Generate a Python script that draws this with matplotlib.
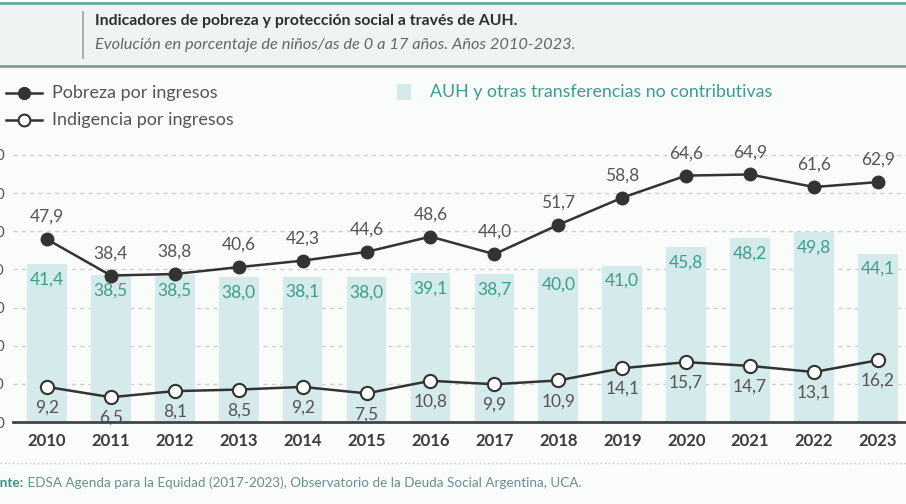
import matplotlib.pyplot as plt
from matplotlib.lines import Line2D
from matplotlib.patches import Rectangle

# Data
YEARS = ['2010', '2011', '2012', '2013', '2014', '2015', '2016',
         '2017', '2018', '2019', '2020', '2021', '2022', '2023']
POBREZA = [47.9, 38.4, 38.8, 40.6, 42.3, 44.6, 48.6, 44.0, 51.7, 58.8, 64.6, 64.9, 61.6, 62.9]
INDIGENCIA = [9.2, 6.5, 8.1, 8.5, 9.2, 7.5, 10.8, 9.9, 10.9, 14.1, 15.7, 14.7, 13.1, 16.2]
AUH = [41.4, 38.5, 38.5, 38.0, 38.1, 38.0, 39.1, 38.7, 40.0, 41.0, 45.8, 48.2, 49.8, 44.1]
Y_TICKS = [0, 10, 20, 30, 40, 50, 60, 70]

TITLE = 'Indicadores de pobreza y protección social a través de AUH.'
SUBTITLE = 'Evolución en porcentaje de niños/as de 0 a 17 años. Años 2010-2023.'
SOURCE_BOLD = 'Fuente:'
SOURCE = ' EDSA Agenda para la Equidad (2017-2023), Observatorio de la Deuda Social Argentina, UCA.'

# Colours
BG = '#fafbfb'
BAR = '#d5eaea'
TEAL = '#3a9e8e'
DARK = '#333333'
GREY_TXT = '#555555'

plt.rcParams['font.family'] = ['Lato', 'DejaVu Sans']

W, H = 906, 504
fig = plt.figure(figsize=(W / 100, H / 100), dpi=100, facecolor=BG)


def fx(px):
    return px / W


def fy(py):
    return 1 - py / H


# Header panel
fig.add_artist(Rectangle((0, fy(65)), 1, fy(4) - fy(65), transform=fig.transFigure,
                         facecolor='#eff3f3', edgecolor='none'))
for yy in (3, 66):
    fig.add_artist(Line2D([0, 1], [fy(yy), fy(yy)], transform=fig.transFigure,
                          color='#6fa69c', lw=2))
fig.add_artist(Line2D([fx(83), fx(83)], [fy(12), fy(58)], transform=fig.transFigure,
                      color='#a0a0a0', lw=1.2))
fig.text(fx(95), fy(21), TITLE, fontsize=11.4, fontweight='bold', color='#2e2e2e',
         va='center', ha='left')
fig.text(fx(95), fy(45), SUBTITLE, fontsize=11.8, style='italic', color='#666666',
         va='center', ha='left')

# Legend
fig.add_artist(Line2D([fx(6), fx(42)], [fy(93), fy(93)], transform=fig.transFigure,
                      color=DARK, lw=1.8))
fig.add_artist(Line2D([fx(24)], [fy(93)], transform=fig.transFigure, color=DARK,
                      marker='o', markersize=8.5, markerfacecolor=DARK, lw=0))
fig.add_artist(Line2D([fx(6), fx(42)], [fy(120), fy(120)], transform=fig.transFigure,
                      color=DARK, lw=1.8))
fig.add_artist(Line2D([fx(24)], [fy(120)], transform=fig.transFigure, color=DARK,
                      marker='o', markersize=8.5, markerfacecolor='white',
                      markeredgewidth=1.5, lw=0))
fig.text(fx(52), fy(93), 'Pobreza por ingresos', fontsize=13, color=GREY_TXT, va='center')
fig.text(fx(52), fy(120), 'Indigencia por ingresos', fontsize=13, color=GREY_TXT, va='center')
fig.add_artist(Rectangle((fx(397), fy(100)), fx(14), fy(84) - fy(100),
                         transform=fig.transFigure, facecolor=BAR, edgecolor='none'))
fig.text(fx(430), fy(92), 'AUH y otras transferencias no contributivas', fontsize=12.8,
         color=TEAL, va='center')

# Main axes
ax = fig.add_axes([fx(13), fy(422), 1 - fx(13), fy(155) - fy(422)])
ax.set_facecolor('none')
x = list(range(len(YEARS)))

ax.bar(x, AUH, width=0.62, color=BAR, zorder=1)
ax.plot(x, POBREZA, color=DARK, lw=1.8, marker='o', markersize=9,
        markerfacecolor=DARK, zorder=3)
ax.plot(x, INDIGENCIA, color=DARK, lw=1.8, marker='o', markersize=9.5,
        markerfacecolor='white', markeredgewidth=1.5, zorder=3)

for xi, v in zip(x, AUH):
    ax.annotate(f'{v:.1f}'.replace('.', ','), (xi, v), xytext=(0, -11),
                textcoords='offset points', ha='center', va='center',
                fontsize=12.5, color=TEAL, zorder=4)
for xi, v in zip(x, POBREZA):
    ax.annotate(f'{v:.1f}'.replace('.', ','), (xi, v), xytext=(0, 16),
                textcoords='offset points', ha='center', va='center',
                fontsize=12.5, color=GREY_TXT, zorder=4)
for xi, v in zip(x, INDIGENCIA):
    ax.annotate(f'{v:.1f}'.replace('.', ','), (xi, v), xytext=(0, -15),
                textcoords='offset points', ha='center', va='center',
                fontsize=12.5, color=GREY_TXT, zorder=4)

ax.set_xlim(-0.532, 13.44)
ax.set_ylim(0, 70)
ax.set_yticks(Y_TICKS)
ax.set_xticks(x)
ax.set_xticklabels(YEARS, fontweight='bold', fontsize=12, color='#3a3a3a')
ax.tick_params(axis='both', length=0)
ax.tick_params(axis='y', pad=6, labelsize=11, labelcolor=GREY_TXT)
ax.tick_params(axis='x', pad=8)
ax.grid(axis='y', color='#cfcfcf', linestyle=(0, (3, 3)), lw=1, zorder=0)
ax.set_axisbelow(True)
for s in ('top', 'right', 'left'):
    ax.spines[s].set_visible(False)
ax.spines['bottom'].set_color('#444444')
ax.spines['bottom'].set_linewidth(2)
ax.spines['bottom'].set_zorder(5)

# Footer
fig.add_artist(Line2D([0, 1], [fy(463), fy(463)], transform=fig.transFigure,
                      color='#c8c8c8', lw=1, linestyle=(0, (1, 2))))
t = fig.text(fx(-22), fy(483), SOURCE_BOLD, fontsize=9.7, fontweight='bold',
             color='#3f8f86', va='center', ha='left')
fig.canvas.draw()
bb = t.get_window_extent()
fig.text(bb.x1 / W, fy(483), SOURCE, fontsize=9.7, color='#6a8f8f', va='center', ha='left')

fig.savefig('out.png', dpi=100, facecolor=BG)
